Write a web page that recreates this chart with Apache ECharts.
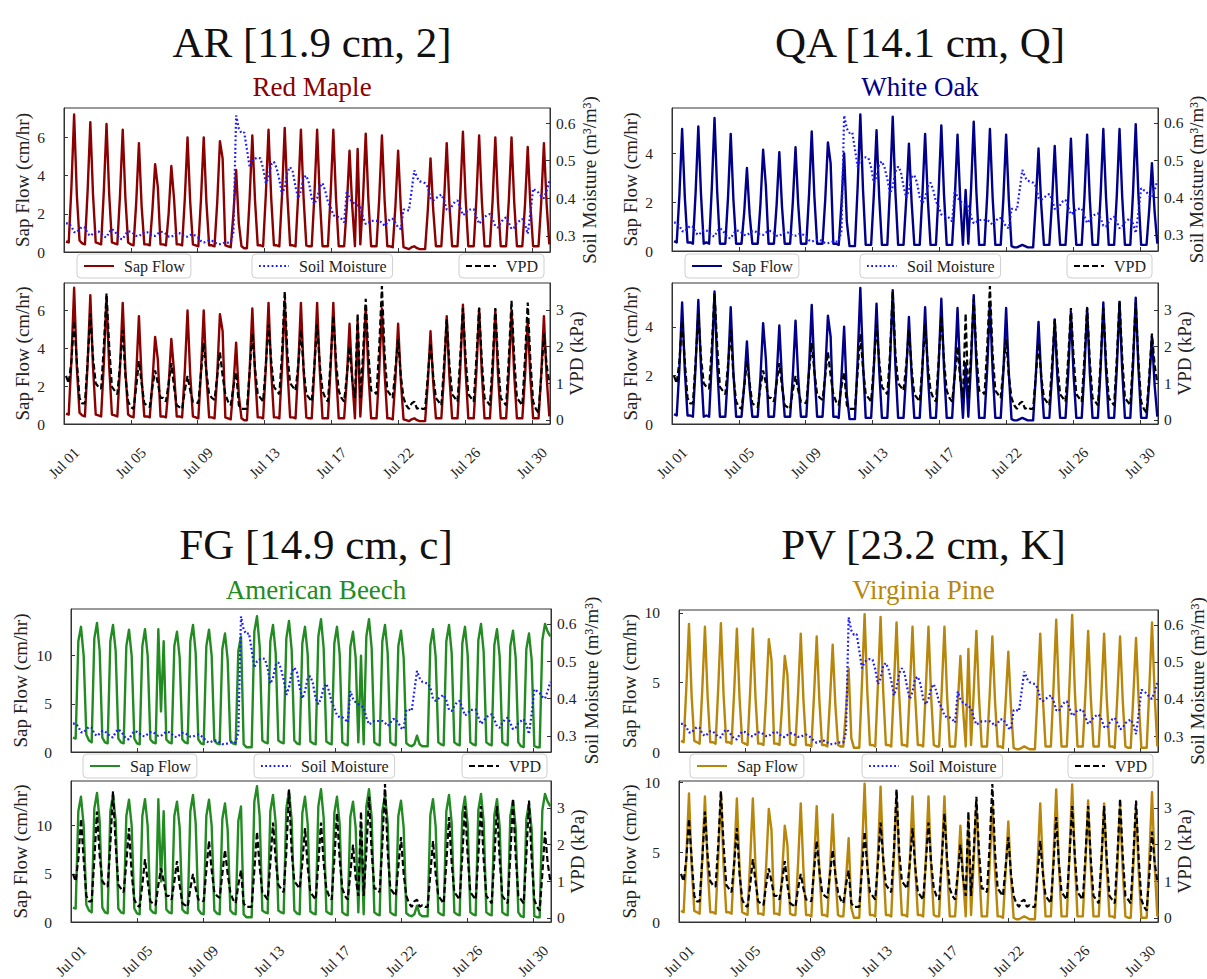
<!DOCTYPE html>
<html>
<head>
<meta charset="utf-8">
<script src="https://cdn.jsdelivr.net/npm/echarts@6/dist/echarts.min.js"></script>
<style>
html, body { margin: 0; padding: 0; background: #fff; }
#chart { width: 1207px; height: 979px; }
</style>
</head>
<body>
<div id="chart"></div>
<script>
// Date ticks on the shared time axis (hours since the start of Jul 01)
const tickLabels = ['Jul 01', 'Jul 05', 'Jul 09', 'Jul 13', 'Jul 17', 'Jul 22', 'Jul 26', 'Jul 30'];
const tickHours = [0, 99, 198, 297, 396, 495, 594, 693];

// Readings are taken six times a day, at these hours
const sampleHours = [3, 7, 11, 15, 19, 23];

// Sap flow (cm/hr), one row per day
const sapAR = [
  0.55, 0.5, 3.4, 7.2, 3.0, 0.6,
  0.45, 0.4, 3.2, 6.8, 3.0, 0.5,
  0.45, 0.4, 3.2, 6.7, 3.0, 0.5,
  0.45, 0.4, 3.0, 6.4, 2.8, 0.5,
  0.4, 0.35, 2.6, 5.7, 2.4, 0.4,
  0.4, 0.35, 2.2, 4.6, 3.4, 0.4,
  0.4, 0.35, 2.0, 4.5, 2.8, 0.4,
  0.4, 0.35, 2.8, 6.0, 2.6, 0.4,
  0.35, 0.3, 2.8, 6.0, 2.6, 0.35,
  0.35, 0.3, 2.6, 5.8, 4.9, 0.35,
  0.3, 0.25, 2.0, 4.3, 1.5, 0.3,
  0.2, 0.2, 2.8, 6.1, 2.7, 0.35,
  0.35, 0.3, 3.0, 6.4, 2.8, 0.35,
  0.35, 0.3, 3.0, 6.5, 2.9, 0.35,
  0.35, 0.3, 3.0, 6.4, 2.8, 0.35,
  0.3, 0.3, 3.0, 6.4, 2.8, 0.3,
  0.3, 0.3, 3.0, 6.4, 2.8, 0.3,
  0.3, 0.3, 2.4, 5.3, 2.4, 0.3,
  5.4, 0.4, 2.8, 6.2, 2.7, 0.3,
  0.3, 0.3, 2.8, 6.1, 2.7, 0.3,
  0.3, 0.25, 2.4, 5.3, 2.3, 0.25,
  0.2, 0.15, 0.25, 0.3, 0.2, 0.15,
  0.15, 0.15, 2.2, 4.9, 2.2, 0.3,
  0.3, 0.3, 2.6, 5.7, 2.5, 0.3,
  0.3, 0.3, 2.9, 6.3, 2.8, 0.3,
  0.3, 0.3, 2.8, 6.1, 2.7, 0.3,
  0.3, 0.3, 2.7, 6.0, 2.6, 0.3,
  0.3, 0.3, 2.7, 6.0, 2.6, 0.3,
  0.3, 0.3, 2.5, 5.5, 2.4, 0.3,
  0.3, 0.3, 2.6, 5.7, 2.5, 0.4
];
const sapQA = [
  0.4, 0.35, 2.3, 5.0, 2.2, 0.35,
  0.35, 0.3, 2.4, 5.1, 2.3, 0.3,
  0.35, 0.3, 2.6, 5.45, 2.4, 0.3,
  0.3, 0.3, 2.2, 4.8, 2.1, 0.3,
  0.3, 0.3, 1.6, 3.4, 1.5, 0.3,
  0.3, 0.3, 1.9, 4.15, 2.7, 0.3,
  0.3, 0.3, 1.9, 4.05, 1.8, 0.3,
  0.3, 0.3, 2.0, 4.25, 1.9, 0.3,
  0.3, 0.3, 2.3, 4.9, 2.2, 0.3,
  0.3, 0.3, 2.1, 4.45, 3.6, 0.3,
  0.3, 0.25, 1.9, 4.0, 1.2, 0.2,
  0.2, 0.2, 2.6, 5.6, 2.5, 0.25,
  0.25, 0.25, 2.3, 4.95, 2.2, 0.25,
  0.25, 0.25, 2.6, 5.5, 2.4, 0.25,
  0.25, 0.25, 2.1, 4.4, 2.0, 0.25,
  0.25, 0.25, 2.3, 4.8, 2.1, 0.25,
  0.25, 0.25, 2.4, 5.15, 2.3, 0.25,
  0.25, 0.25, 2.2, 4.77, 2.1, 0.25,
  2.5, 0.3, 2.5, 5.3, 2.4, 0.25,
  0.25, 0.25, 2.3, 5.0, 2.2, 0.25,
  0.25, 0.25, 2.2, 4.77, 2.1, 0.2,
  0.15, 0.15, 0.2, 0.25, 0.2, 0.15,
  0.15, 0.15, 2.0, 4.2, 1.9, 0.25,
  0.25, 0.25, 2.0, 4.3, 1.9, 0.25,
  0.25, 0.25, 2.1, 4.6, 2.0, 0.25,
  0.25, 0.25, 2.2, 4.77, 2.1, 0.25,
  0.25, 0.25, 2.3, 5.0, 2.2, 0.25,
  0.25, 0.25, 2.3, 5.0, 2.2, 0.25,
  0.25, 0.25, 2.4, 5.2, 2.3, 0.25,
  0.25, 0.25, 1.7, 3.6, 1.6, 0.3
];
const sapFG = [
  1.5, 1.4, 11.5, 13.0, 10.0, 1.8,
  1.2, 1.0, 11.8, 13.4, 10.5, 1.5,
  1.0, 0.9, 11.5, 13.2, 10.5, 1.4,
  1.0, 0.9, 11.0, 12.7, 10.0, 1.4,
  0.9, 0.8, 11.0, 12.75, 10.0, 1.3,
  1.0, 0.9, 12.75, 4.2, 11.5, 1.3,
  1.0, 0.9, 11.0, 12.5, 9.8, 1.3,
  1.0, 0.9, 11.5, 13.2, 10.3, 1.3,
  0.9, 0.8, 11.0, 12.7, 10.0, 1.2,
  0.9, 0.8, 10.7, 12.3, 9.6, 1.2,
  0.9, 0.8, 10.5, 12.0, 0.8, 0.5,
  0.5, 0.5, 12.5, 14.1, 11.0, 1.2,
  1.0, 0.9, 11.5, 13.2, 10.3, 1.2,
  1.0, 0.9, 11.8, 13.6, 10.6, 1.2,
  0.9, 0.8, 11.3, 13.0, 10.2, 1.1,
  0.9, 0.8, 12.0, 13.8, 10.8, 1.1,
  0.9, 0.8, 11.3, 13.0, 10.2, 1.0,
  0.8, 0.7, 10.9, 12.5, 9.8, 1.0,
  10.0, 0.8, 12.0, 13.8, 10.8, 1.0,
  0.8, 0.7, 11.5, 13.2, 10.3, 1.0,
  0.8, 0.7, 11.0, 12.6, 9.8, 0.9,
  0.7, 0.6, 0.8, 1.7, 0.8, 0.6,
  0.6, 0.6, 11.1, 12.75, 9.9, 1.0,
  0.8, 0.7, 11.5, 13.2, 10.3, 1.0,
  0.8, 0.7, 11.3, 13.0, 10.1, 1.0,
  0.8, 0.7, 11.6, 13.3, 10.4, 1.0,
  0.8, 0.7, 11.1, 12.75, 9.9, 1.0,
  0.8, 0.7, 11.0, 12.6, 9.8, 1.0,
  0.6, 0.5, 10.7, 12.3, 9.6, 0.6,
  0.5, 0.5, 11.6, 13.3, 12.5, 12.0
];
const sapPV = [
  0.8, 0.7, 4.6, 9.2, 4.0, 0.8,
  0.7, 0.6, 4.5, 9.0, 4.0, 0.7,
  0.7, 0.6, 4.6, 9.25, 4.1, 0.7,
  0.7, 0.6, 4.4, 8.85, 3.9, 0.7,
  0.6, 0.5, 4.4, 8.85, 3.9, 0.6,
  0.6, 0.5, 4.0, 8.1, 6.6, 0.6,
  0.6, 0.5, 3.4, 6.9, 5.5, 0.6,
  0.5, 0.5, 4.2, 8.5, 3.8, 0.5,
  0.5, 0.4, 4.1, 8.3, 3.7, 0.5,
  0.5, 0.4, 3.8, 7.7, 3.4, 0.5,
  0.4, 0.4, 3.0, 6.0, 1.0, 0.3,
  0.3, 0.3, 4.9, 9.9, 4.4, 0.5,
  0.5, 0.4, 4.8, 9.7, 4.3, 0.5,
  0.5, 0.4, 4.6, 9.3, 4.1, 0.5,
  0.5, 0.4, 4.5, 9.0, 4.0, 0.5,
  0.5, 0.4, 4.5, 9.0, 4.0, 0.5,
  0.4, 0.4, 4.5, 9.0, 4.0, 0.4,
  0.4, 0.4, 3.4, 6.9, 3.1, 0.4,
  7.4, 0.5, 4.3, 8.7, 3.9, 0.4,
  0.4, 0.4, 4.1, 8.3, 3.7, 0.4,
  0.4, 0.3, 3.6, 7.2, 3.2, 0.3,
  0.2, 0.2, 0.3, 0.4, 0.3, 0.2,
  0.2, 0.2, 4.2, 8.5, 3.8, 0.4,
  0.4, 0.4, 4.7, 9.5, 4.2, 0.4,
  0.4, 0.4, 4.9, 9.85, 4.4, 0.4,
  0.4, 0.4, 4.3, 8.7, 3.9, 0.4,
  0.4, 0.4, 4.2, 8.5, 3.8, 0.4,
  0.4, 0.3, 4.1, 8.3, 3.7, 0.4,
  0.3, 0.3, 4.1, 8.2, 3.6, 0.3,
  0.3, 0.3, 4.6, 9.3, 4.1, 0.4
];

// Soil moisture (m3/m3), shared by all four trees
const soilMoisture = [
  0.333, 0.333, 0.325, 0.310, 0.309, 0.318,
  0.324, 0.322, 0.306, 0.300, 0.306, 0.313,
  0.312, 0.306, 0.298, 0.296, 0.310, 0.318,
  0.312, 0.302, 0.292, 0.291, 0.304, 0.312,
  0.311, 0.306, 0.300, 0.299, 0.305, 0.310,
  0.310, 0.305, 0.300, 0.300, 0.306, 0.311,
  0.310, 0.305, 0.298, 0.297, 0.303, 0.308,
  0.307, 0.303, 0.298, 0.298, 0.302, 0.304,
  0.300, 0.295, 0.286, 0.282, 0.285, 0.288,
  0.287, 0.283, 0.278, 0.278, 0.280, 0.283,
  0.282, 0.283, 0.310, 0.620, 0.585, 0.573,
  0.575, 0.530, 0.483, 0.500, 0.505, 0.508,
  0.506, 0.480, 0.440, 0.455, 0.490, 0.497,
  0.480, 0.450, 0.410, 0.430, 0.470, 0.483,
  0.470, 0.430, 0.400, 0.420, 0.455, 0.460,
  0.440, 0.400, 0.385, 0.400, 0.430, 0.440,
  0.420, 0.390, 0.376, 0.355, 0.350, 0.350,
  0.345, 0.336, 0.420, 0.400, 0.390, 0.385,
  0.380, 0.376, 0.350, 0.331, 0.335, 0.340,
  0.340, 0.340, 0.340, 0.335, 0.327, 0.335,
  0.345, 0.345, 0.335, 0.322, 0.318, 0.370,
  0.370, 0.367, 0.420, 0.474, 0.455, 0.445,
  0.443, 0.440, 0.430, 0.400, 0.394, 0.400,
  0.405, 0.410, 0.395, 0.370, 0.367, 0.380,
  0.390, 0.394, 0.375, 0.355, 0.360, 0.370,
  0.370, 0.371, 0.350, 0.332, 0.340, 0.350,
  0.355, 0.358, 0.345, 0.325, 0.322, 0.335,
  0.345, 0.349, 0.335, 0.318, 0.322, 0.335,
  0.340, 0.345, 0.330, 0.305, 0.360, 0.425,
  0.420, 0.415, 0.405, 0.400, 0.420, 0.445
];

// Vapour pressure deficit (kPa), shared by all four trees
const vpd = [
  1.2, 1.0, 1.6, 2.7, 1.6, 0.6,
  0.45, 0.45, 1.6, 2.9, 1.7, 1.0,
  0.9, 0.85, 2.0, 3.45, 2.0, 0.9,
  0.8, 0.7, 1.5, 2.45, 1.2, 0.5,
  0.35, 0.3, 0.9, 1.6, 1.0, 0.45,
  0.4, 0.35, 0.9, 1.35, 1.0, 0.6,
  0.6, 0.5, 1.0, 1.55, 0.9, 0.4,
  0.35, 0.3, 0.8, 1.2, 0.8, 0.5,
  0.5, 0.45, 1.3, 2.1, 1.3, 0.7,
  0.6, 0.55, 1.2, 1.85, 1.2, 0.7,
  0.5, 0.4, 0.9, 1.3, 0.4, 0.3,
  0.3, 0.3, 1.3, 2.35, 1.4, 0.7,
  0.6, 0.5, 1.5, 2.6, 1.6, 0.9,
  0.8, 0.7, 1.8, 3.5, 1.8, 1.0,
  0.9, 0.8, 1.5, 2.45, 1.4, 0.7,
  0.6, 0.5, 1.5, 2.6, 1.5, 0.8,
  0.6, 0.5, 1.6, 2.85, 1.6, 0.8,
  0.6, 0.5, 1.2, 2.0, 1.1, 0.6,
  2.9, 0.6, 1.8, 3.3, 1.8, 0.8,
  0.8, 0.7, 2.0, 3.65, 1.8, 0.8,
  0.7, 0.6, 1.4, 2.2, 1.2, 0.6,
  0.4, 0.3, 0.45, 0.5, 0.3, 0.35,
  0.3, 0.3, 1.2, 2.1, 1.2, 0.6,
  0.5, 0.4, 1.5, 2.75, 1.5, 0.7,
  0.6, 0.5, 1.7, 3.05, 1.7, 0.7,
  0.6, 0.5, 1.7, 3.05, 1.6, 0.6,
  0.5, 0.4, 1.6, 3.05, 1.6, 0.6,
  0.5, 0.4, 1.7, 3.25, 1.7, 0.6,
  0.5, 0.4, 1.7, 3.2, 1.6, 0.5,
  0.3, 0.2, 1.2, 2.35, 1.5, 1.0
];

const soilTicks = [0.3, 0.4, 0.5, 0.6];
const vpdTicks = [0, 1, 2, 3];

const FONT = '"Liberation Serif", "DejaVu Serif", serif';
const FRAME = '#333';
const TEXT = '#222';

// One block per tree: site code, species and where its two stacked plots sit
const panels = [
  { id: 'AR', code: 'AR [11.9 cm, 2]', species: 'Red Maple', color: '#8b0000', sap: sapAR,
    sapTicks: [0, 2, 4, 6], sapMaxTop: 7.54, sapMaxBottom: 7.45,
    left: 64, width: 486, top1: 108, h1: 144, top2: 283, h2: 141,
    titleTop: 16, subTop: 68, legendTop: 254, legendX: [77, 252, 459],
    leftGap: 32, soilGap: 30, vpdGap: 17 },
  { id: 'QA', code: 'QA [14.1 cm, Q]', species: 'White Oak', color: '#00008b', sap: sapQA,
    sapTicks: [0, 2, 4], sapMaxTop: 5.86, sapMaxBottom: 5.8,
    left: 672, width: 486, top1: 108, h1: 143, top2: 283, h2: 141,
    titleTop: 16, subTop: 68, legendTop: 254, legendX: [685, 860, 1067],
    leftGap: 32, soilGap: 29, vpdGap: 17 },
  { id: 'FG', code: 'FG [14.9 cm, c]', species: 'American Beech', color: '#228b22', sap: sapFG,
    sapTicks: [0, 5, 10], sapMaxTop: 14.85, sapMaxBottom: 14.64,
    left: 71, width: 480, top1: 609, h1: 143, top2: 781, h2: 141,
    titleTop: 518, subTop: 571, legendTop: 754, legendX: [83, 254, 462],
    leftGap: 41, soilGap: 31, vpdGap: 17 },
  { id: 'PV', code: 'PV [23.2 cm, K]', species: 'Virginia Pine', color: '#b8860b', sap: sapPV,
    sapTicks: [0, 5, 10], sapMaxTop: 10.2, sapMaxBottom: 10.1,
    left: 679, width: 479, top1: 610, h1: 142, top2: 781, h2: 141,
    titleTop: 518, subTop: 571, legendTop: 754, legendX: [690, 862, 1068],
    leftGap: 40, soilGap: 30, vpdGap: 17 }
];

// Pair every reading with its hour since the start of the record
function timeSeries(values) {
  const n = sampleHours.length;
  return values.map((v, i) => [24 * Math.floor(i / n) + sampleHours[i % n], v]);
}

function xAxisCfg(gridIndex, showLabels) {
  return {
    type: 'value', gridIndex, min: 0, max: 720, position: 'bottom',
    axisLine: { show: true, onZero: false, lineStyle: { color: FRAME, width: 1 } },
    axisTick: { show: true, inside: true, length: 4, customValues: tickHours, lineStyle: { color: FRAME } },
    axisLabel: {
      show: showLabels, customValues: tickHours, rotate: 45, align: 'center', verticalAlign: 'middle',
      margin: 39, fontFamily: FONT, fontSize: 15, color: TEXT,
      formatter: v => { const i = tickHours.indexOf(v); return i >= 0 ? tickLabels[i] : ''; }
    },
    splitLine: { show: false }
  };
}

function yAxisCfg(gridIndex, position, min, max, ticks, name, nameGap) {
  return {
    type: 'value', gridIndex, position, min, max, name,
    nameLocation: 'middle', nameGap, nameRotate: 90, nameMoveOverlap: false,
    nameTextStyle: { fontFamily: FONT, fontSize: 19, color: TEXT },
    axisLine: { show: true, onZero: false, lineStyle: { color: FRAME, width: 1 } },
    axisTick: { show: true, inside: true, length: 4, customValues: ticks, lineStyle: { color: FRAME } },
    axisLabel: { customValues: ticks, margin: position === 'left' ? 19 : 6, fontFamily: FONT, fontSize: 15.5, color: TEXT },
    splitLine: { show: false }
  };
}

function legendCfg(left, top, seriesName, label) {
  return {
    left, top, data: [seriesName], selectedMode: false,
    formatter: () => label,
    backgroundColor: '#fff', borderColor: '#cfcfcf', borderWidth: 1, borderRadius: 4,
    padding: [4, 6, 4, 6], itemWidth: 30, itemHeight: 12,
    itemStyle: { opacity: 0 },
    textStyle: { fontFamily: FONT, fontSize: 16, color: TEXT, padding: [0, 0, 0, 5] }
  };
}

const option = {
  animation: false,
  backgroundColor: '#fff',
  title: [], legend: [], grid: [], xAxis: [], yAxis: [], series: []
};

panels.forEach((p, k) => {
  const cx = p.left + p.width / 2;
  option.title.push(
    { text: p.code, left: cx, top: p.titleTop, textAlign: 'center',
      textStyle: { fontFamily: FONT, fontSize: 43, fontWeight: 'normal', color: '#111' } },
    { text: p.species, left: cx, top: p.subTop, textAlign: 'center',
      textStyle: { fontFamily: FONT, fontSize: 27, fontWeight: 'normal', color: p.color } }
  );

  const gTop = 2 * k, gBottom = 2 * k + 1;
  const frame = { show: true, borderColor: FRAME, borderWidth: 1, containLabel: false, outerBoundsMode: 'none' };
  option.grid.push(
    Object.assign({ left: p.left, top: p.top1, width: p.width, height: p.h1 }, frame),
    Object.assign({ left: p.left, top: p.top2, width: p.width, height: p.h2 }, frame)
  );
  option.xAxis.push(xAxisCfg(gTop, false), xAxisCfg(gBottom, true));

  const y0 = option.yAxis.length;
  option.yAxis.push(
    yAxisCfg(gTop, 'left', 0, p.sapMaxTop, p.sapTicks, 'Sap Flow (cm/hr)', p.leftGap),
    yAxisCfg(gTop, 'right', 0.257, 0.64, soilTicks, 'Soil Moisture (m³/m³)', p.soilGap),
    yAxisCfg(gBottom, 'left', 0, p.sapMaxBottom, p.sapTicks, 'Sap Flow (cm/hr)', p.leftGap),
    yAxisCfg(gBottom, 'right', -0.11, 3.73, vpdTicks, 'VPD (kPa)', p.vpdGap)
  );

  const sapName = 'Sap Flow · ' + p.id;
  const soilName = 'Soil Moisture · ' + p.id;
  const vpdName = 'VPD · ' + p.id;
  const sapData = timeSeries(p.sap);
  const common = { type: 'line', symbol: 'none', silent: true, animation: false };

  option.series.push(
    Object.assign({ name: sapName, xAxisIndex: gTop, yAxisIndex: y0, data: sapData, z: 2,
      lineStyle: { color: p.color, width: 2.4, join: 'round' }, itemStyle: { color: p.color } }, common),
    Object.assign({ name: soilName, xAxisIndex: gTop, yAxisIndex: y0 + 1, data: timeSeries(soilMoisture), z: 3,
      lineStyle: { color: '#1a1aff', width: 2.2, type: [1.8, 2.4] }, itemStyle: { color: '#1a1aff' } }, common),
    Object.assign({ name: sapName, xAxisIndex: gBottom, yAxisIndex: y0 + 2, data: sapData, z: 2,
      lineStyle: { color: p.color, width: 2.4, join: 'round' }, itemStyle: { color: p.color } }, common),
    Object.assign({ name: vpdName, xAxisIndex: gBottom, yAxisIndex: y0 + 3, data: timeSeries(vpd), z: 3,
      lineStyle: { color: '#000', width: 2.2, type: [6, 3] }, itemStyle: { color: '#000' } }, common)
  );

  option.legend.push(
    legendCfg(p.legendX[0], p.legendTop, sapName, 'Sap Flow'),
    legendCfg(p.legendX[1], p.legendTop, soilName, 'Soil Moisture'),
    legendCfg(p.legendX[2], p.legendTop, vpdName, 'VPD')
  );
});

const chart = echarts.init(document.getElementById('chart'), null, { renderer: 'svg', width: 1207, height: 979 });
chart.setOption(option);
</script>
</body>
</html>
